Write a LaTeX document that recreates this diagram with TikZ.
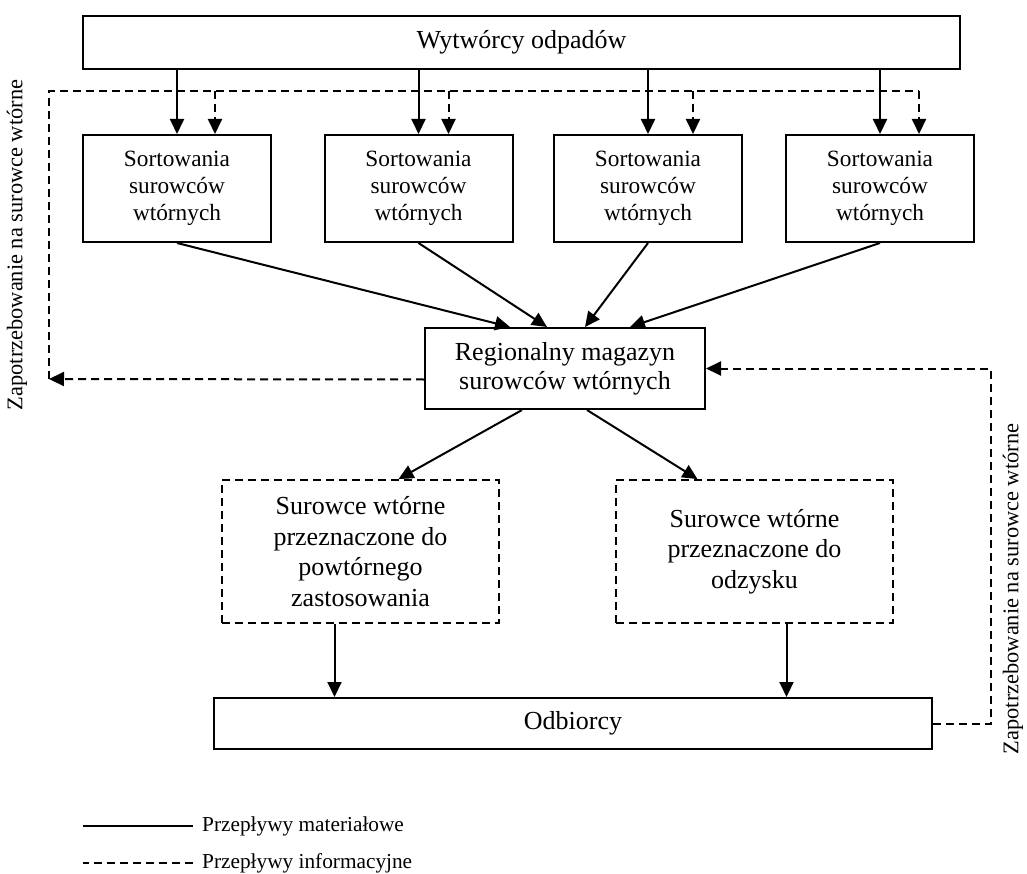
\documentclass[tikz,border=0pt]{standalone}
\usepackage{fontspec}
\setmainfont{Liberation Serif}
\usetikzlibrary{arrows.meta,positioning,calc}
\tikzset{
  wastebox/.style={
    rectangle,
    draw=black,
    fill=white,
    line width=2pt,
    align=center,
    inner sep=0pt,
    font=\fontsize{26}{29}\selectfont
  },
  sortbox/.style={
    wastebox,
    minimum width=188pt,
    minimum height=107pt,
    font=\fontsize{23.3}{26.7}\selectfont
  },
  wastedash/.style={
    wastebox,
    dash pattern=on 8pt off 5pt,
    line width=1.8pt,
    minimum width=277pt,
    minimum height=143pt,
    font=\fontsize{26}{30.7}\selectfont
  },
  flowarrow/.style={
    -{Triangle[length=15pt,width=14pt]},
    line width=2pt,
    draw=black
  },
  infoarrow/.style={
    flowarrow,
    dash pattern=on 8pt off 5pt
  },
  flowline/.style={
    line width=2pt,
    draw=black
  },
  infoline/.style={
    flowline,
    dash pattern=on 8pt off 5pt
  },
  sidelabel/.style={
    rotate=90,
    inner sep=0pt,
    font=\fontsize{22.4}{26}\selectfont
  },
  keylabel/.style={
    anchor=west,
    inner sep=0pt,
    font=\fontsize{21.3}{24}\selectfont
  }
}

\begin{document}
\begin{tikzpicture}[x=1pt,y=-1pt]
  \useasboundingbox (0,0) rectangle (1027,874);

  \node[wastebox,minimum width=877pt,minimum height=53pt] (producers) at (521.5,42.5)
    {Wytwórcy odpadów};

  \node[sortbox] (sort1) at (177,188.5) {Sortowania\\surowców\\wtórnych};
  \node[sortbox] (sort2) at (418.5,188.5) {Sortowania\\surowców\\wtórnych};
  \node[sortbox] (sort3) at (648,188.5) {Sortowania\\surowców\\wtórnych};
  \node[sortbox] (sort4) at (880,188.5) {Sortowania\\surowców\\wtórnych};

  \node[wastebox,minimum width=280pt,minimum height=81pt] (regional) at (565,368.5)
    {Regionalny magazyn\\surowców wtórnych};

  \node[wastedash] (reuse) at (360.5,551.5)
    {Surowce wtórne\\przeznaczone do\\powtórnego\\zastosowania};
  \node[wastedash] (recovery) at (754.5,551.5)
    {Surowce wtórne\\przeznaczone do\\odzysku};

  \node[wastebox,minimum width=718pt,minimum height=51pt] (receivers) at (573,723.5)
    {Odbiorcy};

  \node[sidelabel] (leftdemand) at (17,245) {Zapotrzebowanie na surowce wtórne};
  \node[sidelabel] (rightdemand) at (1013,589) {Zapotrzebowanie na surowce wtórne};

  % przepływy materiałowe od wytwórców do sortowni
  \draw[flowarrow] (producers.south -| sort1.north) -- (sort1.north);
  \draw[flowarrow] (producers.south -| sort2.north) -- (sort2.north);
  \draw[flowarrow] (producers.south -| sort3.north) -- (sort3.north);
  \draw[flowarrow] (producers.south -| sort4.north) -- (sort4.north);

  \draw[flowarrow] (sort1.south) -- ([xshift=-55pt]regional.north);
  \draw[flowarrow] (sort2.south) -- ([xshift=-18pt]regional.north);
  \draw[flowarrow] (sort3.south) -- ([xshift=20pt]regional.north);
  \draw[flowarrow] (sort4.south) -- ([xshift=65pt]regional.north);

  \draw[flowarrow] ([xshift=-43pt]regional.south) -- ([xshift=38pt]reuse.north);
  \draw[flowarrow] ([xshift=22pt]regional.south) -- ([xshift=-57pt]recovery.north);

  \draw[flowarrow] ([xshift=-26pt]reuse.south) -- ([xshift=-26pt]reuse.south |- receivers.north);
  \draw[flowarrow] ([xshift=32pt]recovery.south) -- ([xshift=32pt]recovery.south |- receivers.north);

  % przepływy informacyjne: zapotrzebowanie wraca do sortowni i magazynu
  \coordinate (demandleft) at (49,379);
  \coordinate (demandtop) at (49,91);
  \coordinate (info1) at ([xshift=38pt]sort1.north);
  \coordinate (info2) at ([xshift=30pt]sort2.north);
  \coordinate (info3) at ([xshift=45pt]sort3.north);
  \coordinate (info4) at ([xshift=39pt]sort4.north);

  \draw[infoarrow] ([yshift=-11pt]regional.west) -- (demandleft);
  \draw[infoline] (demandleft) -- (demandtop) -- (demandtop -| info4);
  \draw[infoarrow] (demandtop -| info1) -- (info1);
  \draw[infoarrow] (demandtop -| info2) -- (info2);
  \draw[infoarrow] (demandtop -| info3) -- (info3);
  \draw[infoarrow] (demandtop -| info4) -- (info4);

  \draw[infoarrow] (receivers.east) -- ++(58pt,0) |- (regional.east);

  % legenda
  \node[keylabel] (keymaterial) at (202,826) {Przepływy materiałowe};
  \node[keylabel] (keyinfo) at (202,863) {Przepływy informacyjne};
  \draw[flowline] ([xshift=-9pt]keymaterial.west) -- ++(-110pt,0);
  \draw[infoline] ([xshift=-9pt]keyinfo.west) -- ++(-110pt,0);
\end{tikzpicture}
\end{document}
